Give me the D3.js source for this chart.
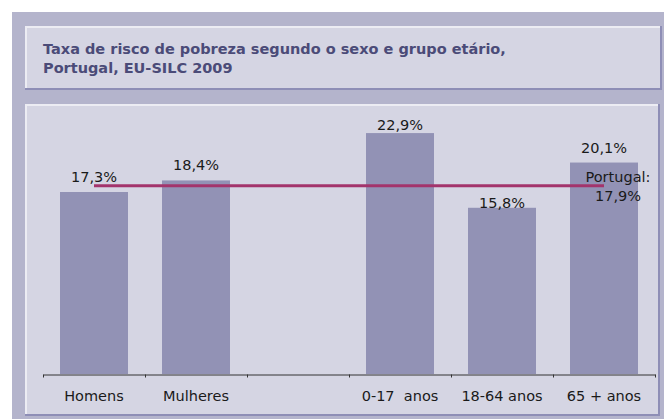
<!DOCTYPE html>
<html>
<head>
<meta charset="utf-8">
<script src="https://cdn.jsdelivr.net/npm/d3@7"></script>
<style>
  body { margin: 0; background: #fff; }
  svg { display: block; font-family: "DejaVu Sans", Verdana, sans-serif; }
</style>
</head>
<body>
<svg id="chart"></svg>
<script>
// chart data
const categories = ["Homens", "Mulheres", "", "0-17  anos", "18-64 anos", "65 + anos"];
const values = [17.3, 18.4, null, 22.9, 15.8, 20.1];
const valueLabels = ["17,3%", "18,4%", "", "22,9%", "15,8%", "20,1%"];
const portugal = [17.9, 17.9, 17.9, 17.9, 17.9, 17.9];
const portugalLabel = ["Portugal:", "17,9%"];
const titleLines = ["Taxa de risco de pobreza segundo o sexo e grupo etário,", "Portugal, EU-SILC 2009"];

const svgWidth = 664;
const svgHeight = 419;
const axisY = 374;

let svg = d3.select('#chart')
    .attr('width', svgWidth)
    .attr('height', svgHeight);

// outer panel
svg.append('rect')
    .attr('x', 12).attr('y', 12)
    .attr('width', svgWidth - 12).attr('height', svgHeight - 12)
    .attr('fill', '#b4b4cc');

let drawBox = (x, y, w, h) => {
    svg.append('rect')
        .attr('x', x).attr('y', y)
        .attr('width', w).attr('height', h)
        .attr('fill', '#d5d5e3');
    // light top/left edge, dark bottom/right edge
    svg.append('path')
        .attr('d', `M${x + 1},${y + h} V${y + 1} H${x + w}`)
        .attr('fill', 'none').attr('stroke', '#ececf3').attr('stroke-width', 2);
    svg.append('path')
        .attr('d', `M${x},${y + h - 1} H${x + w - 1} V${y}`)
        .attr('fill', 'none').attr('stroke', '#8e8eb6').attr('stroke-width', 2);
};

drawBox(25, 26, 637, 64);
drawBox(25, 104, 635, 312);

// title
svg.append('g')
    .selectAll('text')
    .data(titleLines)
    .enter()
    .append('text')
    .attr('x', 43)
    .attr('y', (d, i) => 54 + i * 19)
    .attr('fill', '#4b4b78')
    .attr('font-weight', 'bold')
    .attr('font-size', '14.5px')
    .text(d => d);

// scales
let x = d3.scaleBand()
    .domain(categories)
    .range([43, 655])
    .paddingInner(1 / 3)
    .paddingOuter(1 / 6);

let y = d3.scaleLinear()
    .domain([0, 25])
    .range([axisY, axisY - 263]);

// bars
let barData = categories.map((c, i) => ({ cat: c, value: values[i], label: valueLabels[i] }))
    .filter(d => d.value !== null);

svg.append('g')
    .selectAll('rect')
    .data(barData)
    .enter()
    .append('rect')
    .attr('x', d => x(d.cat))
    .attr('y', d => y(d.value))
    .attr('width', x.bandwidth())
    .attr('height', d => y(0) - y(d.value))
    .attr('fill', '#9292b5');

// bottom axis: ticks on category boundaries
let xEdges = d3.scaleLinear()
    .domain([0, categories.length])
    .range(x.range());

svg.append('g')
    .attr('transform', `translate(0,${axisY + 0.5})`)
    .call(d3.axisBottom(xEdges).ticks(categories.length).tickSize(3).tickSizeOuter(0).tickFormat(''))
    .call(g => g.selectAll('path, line').attr('stroke', '#333'));

svg.append('g')
    .attr('transform', `translate(0,${axisY})`)
    .call(d3.axisBottom(x).tickSize(0).tickPadding(17))
    .call(g => g.select('.domain').remove())
    .call(g => g.selectAll('text')
        .attr('font-family', '"DejaVu Sans", Verdana, sans-serif')
        .attr('font-size', '14.5px')
        .attr('fill', '#1a1a1a')
        .style('white-space', 'pre'));

// Portugal line
let lineData = categories.map((c, i) => ({ cat: c, value: portugal[i] }));
let line = d3.line()
    .x(d => x(d.cat) + x.bandwidth() / 2)
    .y(d => y(d.value));

svg.append('path')
    .datum(lineData)
    .attr('d', line)
    .attr('fill', 'none')
    .attr('stroke', '#a3346c')
    .attr('stroke-width', 3);

// value labels (a couple nudged like the original)
let labelShift = { "22,9%": 3, "15,8%": 0 };
svg.append('g')
    .selectAll('text')
    .data(barData)
    .enter()
    .append('text')
    .attr('x', d => x(d.cat) + x.bandwidth() / 2)
    .attr('y', d => y(d.value) - (d.label in labelShift ? labelShift[d.label] : 10))
    .attr('text-anchor', 'middle')
    .attr('font-size', '14.5px')
    .attr('fill', '#1a1a1a')
    .text(d => d.label);

// Portugal label next to the line end
let last = lineData[lineData.length - 1];
svg.append('g')
    .selectAll('text')
    .data(portugalLabel)
    .enter()
    .append('text')
    .attr('x', x(last.cat) + x.bandwidth() / 2 + 14)
    .attr('y', (d, i) => y(last.value) - 4 + i * 19)
    .attr('text-anchor', 'middle')
    .attr('font-size', '14.5px')
    .attr('fill', '#1a1a1a')
    .text(d => d);
</script>
</body>
</html>
